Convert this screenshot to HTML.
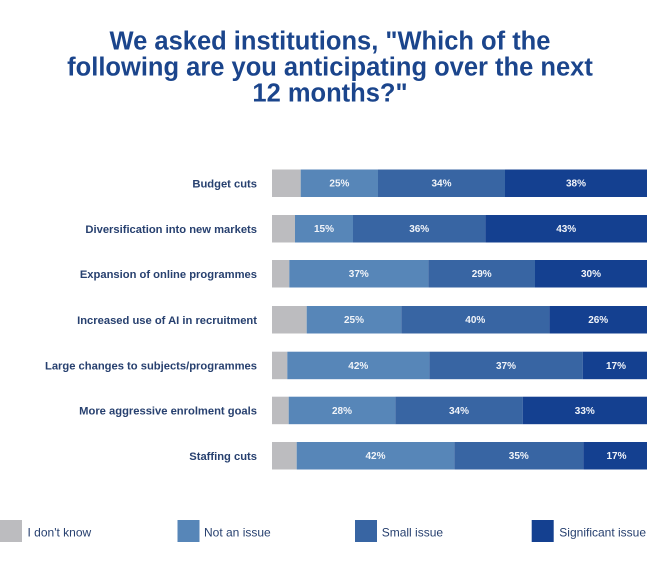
<!DOCTYPE html>
<html>
<head>
<meta charset="utf-8">
<style>
  html, body { margin: 0; padding: 0; background: #ffffff; }
  svg { display: block; }
  .title { font-family: "Liberation Sans", sans-serif; font-weight: bold; font-size: 25.5px; fill: #1b458c; }
  .lab { font-family: "Liberation Sans", sans-serif; font-weight: bold; font-size: 11.2px; fill: #27406f; }
  .pct { font-family: "Liberation Sans", sans-serif; font-weight: bold; font-size: 10px; fill: #f1f4f9; }
  .leg { font-family: "Liberation Sans", sans-serif; font-size: 12px; fill: #27406f; }
</style>
</head>
<body>
<svg width="660" height="561" viewBox="0 0 660 561" xmlns="http://www.w3.org/2000/svg">
  <rect width="660" height="561" fill="#ffffff"/>
  <text class="title" x="330" y="49.3" text-anchor="middle">We asked institutions, "Which of the</text>
  <text class="title" x="330" y="75.5" text-anchor="middle">following are you anticipating over the next</text>
  <text class="title" x="330" y="101.7" text-anchor="middle">12 months?"</text>

  <!-- Bar 1 -->
  <g>
    <text class="lab" x="257" y="187.3" text-anchor="end">Budget cuts</text>
    <rect x="272" y="169.5" width="28.7" height="27.5" fill="#bcbcbf"/>
    <rect x="300.7" y="169.5" width="77.3" height="27.5" fill="#5786b8"/>
    <rect x="378" y="169.5" width="127" height="27.5" fill="#3865a3"/>
    <rect x="505" y="169.5" width="142" height="27.5" fill="#144090"/>
    <text class="pct" x="339.4" y="186.7" text-anchor="middle">25%</text>
    <text class="pct" x="441.5" y="186.7" text-anchor="middle">34%</text>
    <text class="pct" x="576" y="186.7" text-anchor="middle">38%</text>
  </g>
  <!-- Bar 2 -->
  <g>
    <text class="lab" x="257" y="232.8" text-anchor="end">Diversification into new markets</text>
    <rect x="272" y="215" width="23" height="27.5" fill="#bcbcbf"/>
    <rect x="295" y="215" width="58" height="27.5" fill="#5786b8"/>
    <rect x="353" y="215" width="132.3" height="27.5" fill="#3865a3"/>
    <rect x="485.3" y="215" width="161.7" height="27.5" fill="#144090"/>
    <text class="pct" x="324" y="232.2" text-anchor="middle">15%</text>
    <text class="pct" x="419.2" y="232.2" text-anchor="middle">36%</text>
    <text class="pct" x="566.2" y="232.2" text-anchor="middle">43%</text>
  </g>
  <!-- Bar 3 -->
  <g>
    <text class="lab" x="257" y="277.8" text-anchor="end">Expansion of online programmes</text>
    <rect x="272" y="260" width="17.3" height="27.5" fill="#bcbcbf"/>
    <rect x="289.3" y="260" width="139" height="27.5" fill="#5786b8"/>
    <rect x="428.3" y="260" width="106.7" height="27.5" fill="#3865a3"/>
    <rect x="535" y="260" width="112" height="27.5" fill="#144090"/>
    <text class="pct" x="358.8" y="277.2" text-anchor="middle">37%</text>
    <text class="pct" x="481.7" y="277.2" text-anchor="middle">29%</text>
    <text class="pct" x="591" y="277.2" text-anchor="middle">30%</text>
  </g>
  <!-- Bar 4 -->
  <g>
    <text class="lab" x="257" y="323.8" text-anchor="end">Increased use of AI in recruitment</text>
    <rect x="272" y="306" width="34.7" height="27.5" fill="#bcbcbf"/>
    <rect x="306.7" y="306" width="94.6" height="27.5" fill="#5786b8"/>
    <rect x="401.3" y="306" width="148" height="27.5" fill="#3865a3"/>
    <rect x="549.3" y="306" width="97.7" height="27.5" fill="#144090"/>
    <text class="pct" x="354" y="323.2" text-anchor="middle">25%</text>
    <text class="pct" x="475.3" y="323.2" text-anchor="middle">40%</text>
    <text class="pct" x="598.2" y="323.2" text-anchor="middle">26%</text>
  </g>
  <!-- Bar 5 -->
  <g>
    <text class="lab" x="257" y="369.5" text-anchor="end">Large changes to subjects/programmes</text>
    <rect x="272" y="351.7" width="15.3" height="27.5" fill="#bcbcbf"/>
    <rect x="287.3" y="351.7" width="142" height="27.5" fill="#5786b8"/>
    <rect x="429.3" y="351.7" width="153.4" height="27.5" fill="#3865a3"/>
    <rect x="582.7" y="351.7" width="64.3" height="27.5" fill="#144090"/>
    <text class="pct" x="358.3" y="368.9" text-anchor="middle">42%</text>
    <text class="pct" x="506" y="368.9" text-anchor="middle">37%</text>
    <text class="pct" x="616" y="368.9" text-anchor="middle">17%</text>
  </g>
  <!-- Bar 6 -->
  <g>
    <text class="lab" x="257" y="414.5" text-anchor="end">More aggressive enrolment goals</text>
    <rect x="272" y="396.7" width="16.7" height="27.5" fill="#bcbcbf"/>
    <rect x="288.7" y="396.7" width="106.6" height="27.5" fill="#5786b8"/>
    <rect x="395.3" y="396.7" width="127.4" height="27.5" fill="#3865a3"/>
    <rect x="522.7" y="396.7" width="124.3" height="27.5" fill="#144090"/>
    <text class="pct" x="342" y="413.9" text-anchor="middle">28%</text>
    <text class="pct" x="459" y="413.9" text-anchor="middle">34%</text>
    <text class="pct" x="584.8" y="413.9" text-anchor="middle">33%</text>
  </g>
  <!-- Bar 7 -->
  <g>
    <text class="lab" x="257" y="459.8" text-anchor="end">Staffing cuts</text>
    <rect x="272" y="442" width="24.7" height="27.5" fill="#bcbcbf"/>
    <rect x="296.7" y="442" width="157.6" height="27.5" fill="#5786b8"/>
    <rect x="454.3" y="442" width="129" height="27.5" fill="#3865a3"/>
    <rect x="583.3" y="442" width="63.7" height="27.5" fill="#144090"/>
    <text class="pct" x="375.5" y="459.2" text-anchor="middle">42%</text>
    <text class="pct" x="518.8" y="459.2" text-anchor="middle">35%</text>
    <text class="pct" x="616.5" y="459.2" text-anchor="middle">17%</text>
  </g>

  <!-- Legend -->
  <rect x="0" y="520" width="22" height="22" fill="#bcbcbf"/>
  <text class="leg" x="27.5" y="536.5">I don't know</text>
  <rect x="177.5" y="520" width="22" height="22" fill="#5786b8"/>
  <text class="leg" x="204" y="536.5">Not an issue</text>
  <rect x="355" y="520" width="22" height="22" fill="#3865a3"/>
  <text class="leg" x="381.7" y="536.5">Small issue</text>
  <rect x="531.7" y="520" width="22" height="22" fill="#144090"/>
  <text class="leg" x="559.3" y="536.5">Significant issue</text>
</svg>
</body>
</html>
